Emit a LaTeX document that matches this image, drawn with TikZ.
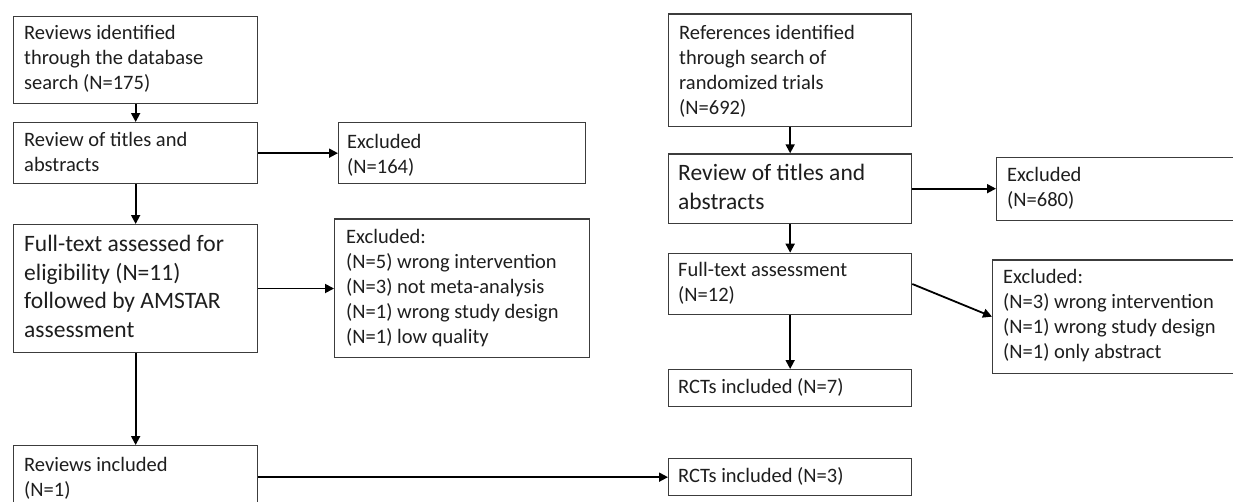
\documentclass[tikz,border=0pt]{standalone}
\usepackage{fontspec}
\setmainfont{Carlito}
\usetikzlibrary{arrows.meta}
\definecolor{bordc}{HTML}{3C3C3C}
\definecolor{txtc}{HTML}{1E1E1E}
\newcommand\smtxt{\fontsize{20.5}{25}\selectfont}
\newcommand\lgtxt{\fontsize{23.5}{28.5}\selectfont}
\newcommand\lgtxtb{\fontsize{23.5}{29}\selectfont}
\newcommand\lns[1]{\begin{tabular}[t]{@{}l@{}}#1\end{tabular}}
\tikzset{
  box/.style={draw=bordc, line width=1.3pt, fill=white, inner sep=0pt, anchor=north west},
  txt/.style={inner sep=0pt, anchor=base west, text=txtc, font=\smtxt},
  arr/.style={line width=1.8pt, -{Triangle[length=9pt,width=9pt]}},
}
\begin{document}
\begin{tikzpicture}[x=1pt,y=-1pt]
\useasboundingbox (0,0) rectangle (1233,501);
\clip (0,0) rectangle (1233,501);
% left column
\node[box, minimum width=244pt, minimum height=87pt] (a) at (13,16) {};
\node[txt] (at) at ([xshift=11pt,yshift=-23pt]a.north west) {\lns{Reviews identified\\through the database\\search (N=175)}};
\node[box, minimum width=244pt, minimum height=61pt] (b) at (13,122) {};
\node[txt] (bt) at ([xshift=11pt,yshift=-24.7pt]b.north west) {\lns{Review of titles and\\abstracts}};
\node[box, minimum width=247pt, minimum height=61pt] (e1) at (338,122) {};
\node[txt] (e1t) at ([xshift=9pt,yshift=-26pt]e1.north west) {\lns{Excluded\\(N=164)}};
\node[box, minimum width=244pt, minimum height=127.7pt] (c) at (13,224) {};
\node[txt, font=\lgtxt] (ct) at ([xshift=11pt,yshift=-27.7pt]c.north west) {\lns{Full-text assessed for\\eligibility (N=11)\\followed by AMSTAR\\assessment}};
\node[box, minimum width=254.5pt, minimum height=138.4pt] (e2) at (334,218.3) {};
\node[txt] (e2t) at ([xshift=12pt,yshift=-25pt]e2.north west) {\lns{Excluded:\\(N=5) wrong intervention\\(N=3) not meta-analysis\\(N=1) wrong study design\\(N=1) low quality}};
\node[box, minimum width=244pt, minimum height=70pt] (d) at (13,445) {};
\node[txt] (dt) at ([xshift=11pt,yshift=-26.7pt]d.north west) {\lns{Reviews included\\(N=1)}};
\node[box, minimum width=243pt, minimum height=37pt] (rc3) at (668,458) {};
\node[txt] (rc3t) at ([xshift=10pt,yshift=-24pt]rc3.north west) {RCTs included (N=3)};
% right column
\node[box, minimum width=243pt, minimum height=112.7pt] (r1) at (668,13.3) {};
\node[txt] (r1t) at ([xshift=11pt,yshift=-26pt]r1.north west) {\lns{References identified\\through search of\\randomized trials\\(N=692)}};
\node[box, minimum width=243pt, minimum height=69.4pt] (r2) at (668,153.3) {};
\node[txt, font=\lgtxtb] (r2t) at ([xshift=10pt,yshift=-27.4pt]r2.north west) {\lns{Review of titles and\\abstracts}};
\node[box, minimum width=260pt, minimum height=63pt] (e3) at (996,157) {};
\node[txt] (e3t) at ([xshift=11pt,yshift=-24.7pt]e3.north west) {\lns{Excluded\\(N=680)}};
\node[box, minimum width=243pt, minimum height=61.3pt] (r3) at (668,252.7) {};
\node[txt] (r3t) at ([xshift=10pt,yshift=-24pt]r3.north west) {\lns{Full-text assessment\\(N=12)}};
\node[box, minimum width=260pt, minimum height=113.4pt] (e4) at (992,259.3) {};
\node[txt] (e4t) at ([xshift=11pt,yshift=-24pt]e4.north west) {\lns{Excluded:\\(N=3) wrong intervention\\(N=1) wrong study design\\(N=1) only abstract}};
\node[box, minimum width=243pt, minimum height=37pt] (r4) at (668,369) {};
\node[txt] (r4t) at ([xshift=10pt,yshift=-24pt]r4.north west) {RCTs included (N=7)};
% connectors
\draw[arr] (a.south) -- (b.north);
\draw[arr] (b.south) -- (c.north);
\draw[arr] (b.east) -- (b.east -| e1.west);
\draw[arr] (c.east) -- (c.east -| e2.west);
\draw[arr] (c.south) -- (d.north);
\draw[arr] (rc3.west -| d.east) -- (rc3.west);
\draw[arr] (r1.south) -- (r2.north);
\draw[arr] (r2.south) -- (r3.north);
\draw[arr] (r3.south) -- (r4.north);
\draw[arr] (r2.east) -- (r2.east -| e3.west);
\draw[arr] (r3.east) -- (e4.west);
\end{tikzpicture}
\end{document}
